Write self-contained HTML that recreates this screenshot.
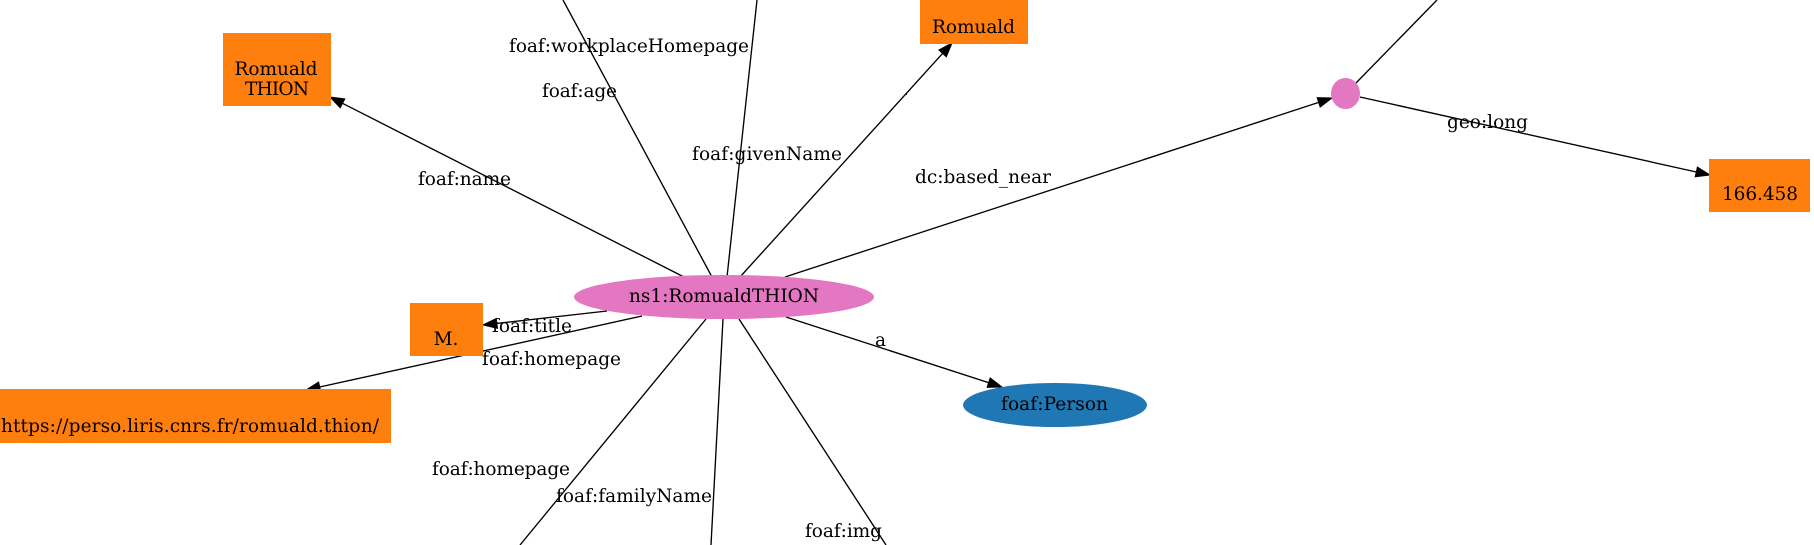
<!DOCTYPE html>
<html><head><meta charset="utf-8"><style>
html,body{margin:0;padding:0;background:#fff;}
svg{display:block;}
text{font-family:"DejaVu Serif","Liberation Serif",serif;font-size:18.5px;fill:#000;}
</style></head><body>
<svg width="1814" height="545" viewBox="0 0 1814 545" xmlns="http://www.w3.org/2000/svg">
<g stroke="#000" stroke-width="1.35" fill="none">
<line x1="712" y1="277" x2="563" y2="0"/>
<line x1="727" y1="277" x2="757" y2="0"/>
<line x1="1356" y1="83" x2="1437" y2="0"/>
<line x1="706" y1="319" x2="520" y2="545"/>
<line x1="723" y1="319" x2="711" y2="545"/>
<line x1="739" y1="319" x2="886" y2="545"/>
<line x1="684" y1="277" x2="342.5" y2="103.3"/>
<line x1="740" y1="277" x2="942.6" y2="53.4"/>
<line x1="785" y1="277" x2="1318.7" y2="102.4"/>
<line x1="1360" y1="97" x2="1696.3" y2="172"/>
<line x1="607" y1="311" x2="496.9" y2="323.4"/>
<line x1="642" y1="316" x2="319.7" y2="387"/>
<line x1="786" y1="317" x2="988.7" y2="382.7"/>
</g>
<g fill="#000" stroke="#000" stroke-width="1">
<polygon points="330,97 344.8,98.9 340.2,107.8"/>
<polygon points="952,43 946.3,56.8 938.9,50.0"/>
<polygon points="1332,98 1320.2,107.1 1317.1,97.6"/>
<polygon points="1710,175 1695.2,176.8 1697.4,167.1"/>
<polygon points="483,325 496.3,318.5 497.5,328.4"/>
<polygon points="306,390 318.6,382.1 320.8,391.9"/>
<polygon points="1002,387 987.1,387.4 990.2,377.9"/>
</g>
<!-- nodes -->
<rect x="223" y="33" width="108" height="73" fill="#ff7f0e"/>
<rect x="920" y="-5" width="108" height="49" fill="#ff7f0e"/>
<rect x="1709" y="159" width="101" height="53" fill="#ff7f0e"/>
<rect x="410" y="303" width="73" height="53" fill="#ff7f0e"/>
<rect x="-12" y="389" width="403" height="54" fill="#ff7f0e"/>
<ellipse cx="1345.5" cy="93.5" rx="14.5" ry="15.5" fill="#e377c2"/>
<ellipse cx="724" cy="297" rx="150" ry="22" fill="#e377c2"/>
<ellipse cx="1055" cy="405" rx="92" ry="22" fill="#1f77b4"/>
<!-- node text -->
<g text-anchor="middle">
<text x="276" y="75" textLength="83">Romuald</text>
<text x="277" y="95" textLength="64">THION</text>
<text x="973.5" y="33" textLength="83">Romuald</text>
<text x="1760" y="200" textLength="76">166.458</text>
<text x="446" y="345">M.</text>
<text x="190" y="432" textLength="378">https://perso.liris.cnrs.fr/romuald.thion/</text>
<text x="724" y="302" textLength="190">ns1:RomualdTHION</text>
<text x="1054.5" y="410" textLength="107">foaf:Person</text>
</g>
<!-- edge labels -->
<text x="509" y="52" textLength="240">foaf:workplaceHomepage</text>
<text x="542" y="97" textLength="75">foaf:age</text>
<text x="692" y="160" textLength="150">foaf:givenName</text>
<text x="418" y="185" textLength="93">foaf:name</text>
<text x="915" y="183" textLength="136">dc:based_near</text>
<text x="905" y="95" style="font-size:9px">.</text>
<text x="1447" y="128" textLength="81">geo:long</text>
<text x="492" y="332" textLength="80">foaf:title</text>
<text x="482" y="365" textLength="139">foaf:homepage</text>
<text x="875" y="346">a</text>
<text x="432" y="475" textLength="138">foaf:homepage</text>
<text x="556" y="502" textLength="156">foaf:familyName</text>
<text x="805" y="537" textLength="77">foaf:img</text>
</svg>
</body></html>
